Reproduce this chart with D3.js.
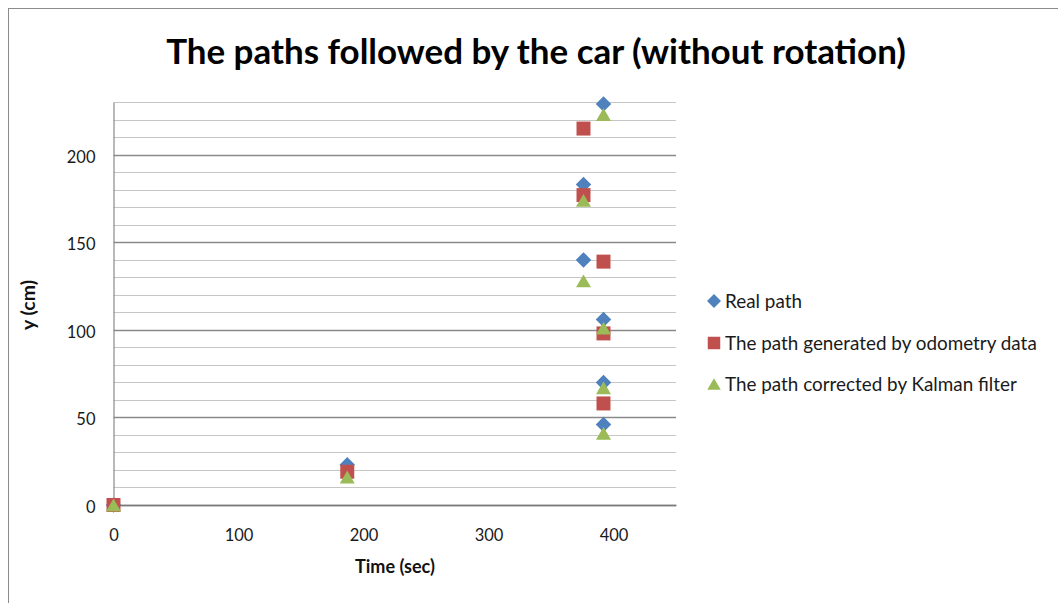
<!DOCTYPE html>
<html>
<head>
<meta charset="utf-8">
<script src="https://cdn.jsdelivr.net/npm/d3@7"></script>
<style>
  html, body { margin: 0; padding: 0; background: #fff; }
  svg { display: block; font-family: Lato, "Open Sans", sans-serif; }
</style>
</head>
<body>
<svg id="chart" width="1058" height="603"></svg>
<script>
// Series: time (sec) and y position (cm) for each path
const seriesNames = [
  "Real path",
  "The path generated by odometry data",
  "The path corrected by Kalman  filter"
];
const realTime = [0, 187, 392, 392, 392, 376, 376, 392];
const realY    = [0, 23, 46, 70, 106, 140, 183, 229];
const odoTime  = [0, 187, 392, 392, 392, 376, 376];
const odoY     = [0, 19, 58, 98, 139, 177, 215];
const kalTime  = [0, 187, 392, 392, 392, 376, 376, 392];
const kalY     = [0, 16, 41, 67, 101, 128, 174, 223];

const xTicks = [0, 100, 200, 300, 400];
const yTicks = [0, 50, 100, 150, 200];
const yMinorStep = 10;

const colors = ["#4F81BD", "#C0504D", "#9BBB59"];

// Marker shapes given as d3 symbol types; "size" is the marker's width in px
const diamond = { draw(ctx, s) { const r = s / 2;
  ctx.moveTo(0, -r); ctx.lineTo(r, 0); ctx.lineTo(0, r); ctx.lineTo(-r, 0); ctx.closePath(); } };
const square = { draw(ctx, s) { const r = s / 2;
  ctx.moveTo(-r, -r); ctx.lineTo(r, -r); ctx.lineTo(r, r); ctx.lineTo(-r, r); ctx.closePath(); } };
const triangle = { draw(ctx, s) { const r = s / 2, h = s * 0.43;
  ctx.moveTo(0, -h); ctx.lineTo(r, h); ctx.lineTo(-r, h); ctx.closePath(); } };
const symbols = [diamond, square, triangle];
const markerSize = [15.5, 14, 15];

const series = [
  { name: seriesNames[0], t: realTime, y: realY },
  { name: seriesNames[1], t: odoTime,  y: odoY },
  { name: seriesNames[2], t: kalTime,  y: kalY }
];

const svg = d3.select("#chart");

// Outer chart frame
svg.append("rect")
  .attr("x", 8.5).attr("y", 8.5)
  .attr("width", 1070).attr("height", 620)
  .attr("fill", "#fff").attr("stroke", "#8c8c8c").attr("stroke-width", 1);

const plot = { left: 113.5, right: 676, top: 102.3, bottom: 505 };

const x = d3.scaleLinear().domain([0, 450]).range([plot.left, plot.right]);
const y = d3.scaleLinear().domain([0, 230]).range([plot.bottom, plot.top]);

// Scale a text's font size so that it spans the given width
function fitWidth(sel, width) {
  const node = sel.node();
  const fs = parseFloat(sel.attr("font-size"));
  const w = node.getComputedTextLength();
  sel.attr("font-size", (fs * width / w).toFixed(2));
  return sel;
}

// Gridlines: minor every 10, major every 50
const gridVals = d3.range(0, 231, yMinorStep);
svg.append("g").selectAll("line")
  .data(gridVals)
  .join("line")
  .attr("x1", plot.left).attr("x2", plot.right)
  .attr("y1", d => Math.round(y(d)) + 0.5)
  .attr("y2", d => Math.round(y(d)) + 0.5)
  .attr("stroke", d => d % 50 === 0 ? "#8a8a8a" : "#c6c6c6")
  .attr("stroke-width", d => d % 50 === 0 ? 1.4 : 1.2);

// Y axis
const yAxis = svg.append("g")
  .attr("transform", `translate(${plot.left},0)`)
  .call(d3.axisLeft(y).tickValues(yTicks).tickSize(0).tickPadding(18));
yAxis.select(".domain").attr("stroke", "#8a8a8a").attr("stroke-width", 1.2);
yAxis.selectAll("text")
  .attr("font-family", "Lato, sans-serif")
  .attr("font-size", 16.5)
  .attr("fill", "#1a1a1a")
  .attr("dy", "0.45em");

// X axis
const xAxis = svg.append("g")
  .attr("transform", `translate(0,${plot.bottom})`)
  .call(d3.axisBottom(x).tickValues(xTicks).tickSize(0).tickPadding(24));
xAxis.select(".domain").attr("stroke", "#7a7a7a").attr("stroke-width", 1.4);
xAxis.selectAll("text")
  .attr("font-family", "Lato, sans-serif")
  .attr("font-size", 16.5)
  .attr("fill", "#1a1a1a");

// Data markers, drawn series by series
series.forEach((s, i) => {
  svg.append("g").selectAll("path")
    .data(s.t.map((t, j) => ({ t, v: s.y[j] })))
    .join("path")
    .attr("transform", d => `translate(${x(d.t)},${y(d.v)})`)
    .attr("d", d3.symbol().type(symbols[i]).size(markerSize[i]))
    .attr("fill", colors[i]);
});

// Title
const title = svg.append("text")
  .attr("x", 536).attr("y", 64)
  .attr("text-anchor", "middle")
  .attr("font-weight", "bold")
  .attr("font-size", 30)
  .attr("fill", "#000")
  .text("The paths followed by the car (without rotation)");
fitWidth(title, 740);

// Axis titles
const xt = svg.append("text")
  .attr("x", 395).attr("y", 573)
  .attr("text-anchor", "middle")
  .attr("font-weight", "bold")
  .attr("font-size", 16)
  .attr("fill", "#111")
  .text("Time (sec)");
fitWidth(xt, 80);

const yt = svg.append("text")
  .attr("transform", "translate(35,305) rotate(-90)")
  .attr("text-anchor", "middle")
  .attr("font-weight", "bold")
  .attr("font-size", 14)
  .attr("fill", "#111")
  .text("y (cm)");
fitWidth(yt, 50);

// Legend
const legendY = [301, 343, 384];
const legend = svg.append("g");
series.forEach((s, i) => {
  legend.append("path")
    .attr("transform", `translate(714,${legendY[i]})`)
    .attr("d", d3.symbol().type(symbols[i]).size(markerSize[i] - 1.5))
    .attr("fill", colors[i]);
  legend.append("text")
    .attr("x", 725).attr("y", legendY[i])
    .attr("dy", "0.36em")
    .attr("font-size", 16)
    .attr("fill", "#1a1a1a")
    .text(s.name);
});
fitWidth(legend.selectAll("text").filter((d, i) => i === 1), 312);
const legendFs = legend.selectAll("text").filter((d, i) => i === 1).attr("font-size");
legend.selectAll("text").attr("font-size", legendFs);
</script>
</body>
</html>
